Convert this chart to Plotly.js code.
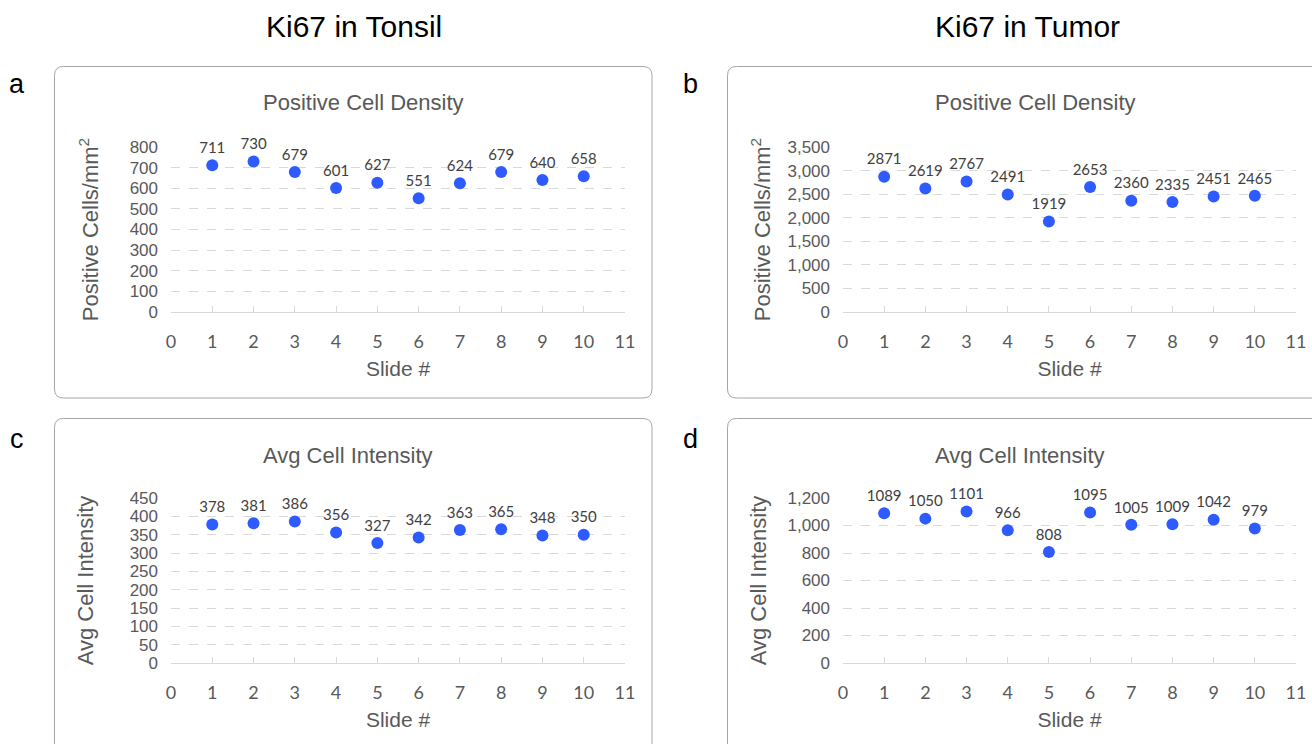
<!DOCTYPE html>
<html>
<head>
<meta charset="utf-8">
<script src="https://cdn.plot.ly/plotly-3.0.1.min.js"></script>
<style>
html,body{margin:0;padding:0;background:#fff;}
#chart{width:1312px;height:744px;}
</style>
</head>
<body>
<div id="chart"></div>
<script>
// ---- data ----
const slides = [1,2,3,4,5,6,7,8,9,10];
const tonsilDensity = [711,730,679,601,627,551,624,679,640,658];
const tumorDensity = [2871,2619,2767,2491,1919,2653,2360,2335,2451,2465];
const tonsilIntensity = [378,381,386,356,327,342,363,365,348,350];
const tumorIntensity = [1089,1050,1101,966,808,1095,1005,1009,1042,979];
const columnTitles = ["Ki67 in Tonsil","Ki67 in Tumor"];
const panelLetters = ["a","b","c","d"];
const chartTitles = ["Positive Cell Density","Positive Cell Density","Avg Cell Intensity","Avg Cell Intensity"];
const yTitles = ["Positive Cells/mm<sup>2</sup>","Positive Cells/mm<sup>2</sup>","Avg Cell Intensity","Avg Cell Intensity"];
const xTitle = "Slide #";

// ---- layout helpers (pixels -> paper) ----
const W = 1312, H = 744;
const px = v => v / W;
const py = v => 1 - v / H;

const SANS = "'Liberation Sans', Arial, sans-serif";
const LABEL = "Lato, 'Open Sans', sans-serif";
const GREY = "#595959";
const BLUE = "#2e5bff";

const panels = [
  {data: tonsilDensity, x0:171, x1:625, yTop:147, yBot:312, ymax:800, dtick:100, fmt:"d", ystand:24},
  {data: tumorDensity, x0:843, x1:1296, yTop:147, yBot:312, ymax:3500, dtick:500, fmt:",d", ystand:10},
  {data: tonsilIntensity, x0:171, x1:625, yTop:498, yBot:663, ymax:450, dtick:50, fmt:"d", ystand:29},
  {data: tumorIntensity, x0:843, x1:1296, yTop:498, yBot:663, ymax:1200, dtick:200, fmt:",d", ystand:14}
];

const traces = [];
const layout = {
  width: W, height: H,
  margin: {l:0, r:0, t:0, b:0},
  paper_bgcolor: "#fff", plot_bgcolor: "rgba(0,0,0,0)",
  showlegend: false,
  font: {family: SANS, color: GREY},
  annotations: [], shapes: []
};

panels.forEach((p, i) => {
  const n = i === 0 ? "" : String(i + 1);
  traces.push({
    type: "scatter", mode: "markers+text",
    x: slides, y: p.data,
    text: p.data.map(String),
    textposition: "top center",
    textfont: {family: LABEL, size: 15, color: "#404040"},
    marker: {size: 12, color: BLUE},
    cliponaxis: false,
    xaxis: "x" + n, yaxis: "y" + n,
    hoverinfo: "x+y"
  });
  layout["xaxis" + n] = {
    domain: [px(p.x0), px(p.x1)],
    anchor: "y" + n,
    range: [0, 11], dtick: 1, tick0: 0,
    showgrid: false, zeroline: false,
    showline: true, linecolor: "#d9d9d9", linewidth: 1,
    ticks: "inside", ticklen: 6, tickcolor: "#d9d9d9",
    ticklabelstandoff: 13,
    tickfont: {family: LABEL, size: 18, color: GREY},
    title: {text: xTitle, font: {family: SANS, size: 21, color: GREY}, standoff: 10}
  };
  layout["yaxis" + n] = {
    domain: [py(p.yBot), py(p.yTop)],
    anchor: "x" + n,
    range: [0, p.ymax], dtick: p.dtick, tick0: 0,
    tickformat: p.fmt,
    showgrid: true, gridcolor: "#d9d9d9", griddash: "dash", gridwidth: 1,
    zeroline: false, showline: false, ticks: "",
    ticklabelstandoff: 12,
    tickfont: {family: SANS, size: 17, color: GREY},
    title: {text: yTitles[i], font: {family: SANS, size: 22, color: GREY}, standoff: p.ystand}
  };
});

// rounded panel boxes
function roundedBox(l, t, r, b, rad) {
  const X = px, Y = py;
  return "M " + X(l + rad) + "," + Y(t) +
    " L " + X(r - rad) + "," + Y(t) +
    " Q " + X(r) + "," + Y(t) + " " + X(r) + "," + Y(t + rad) +
    " L " + X(r) + "," + Y(b - rad) +
    " Q " + X(r) + "," + Y(b) + " " + X(r - rad) + "," + Y(b) +
    " L " + X(l + rad) + "," + Y(b) +
    " Q " + X(l) + "," + Y(b) + " " + X(l) + "," + Y(b - rad) +
    " L " + X(l) + "," + Y(t + rad) +
    " Q " + X(l) + "," + Y(t) + " " + X(l + rad) + "," + Y(t) + " Z";
}
const boxes = [[54.5,66.5,652,398],[727.5,66.5,1340,398],[54.5,418.5,652,770],[727.5,418.5,1340,770]];
boxes.forEach(b => {
  layout.shapes.push({type: "path", xref: "paper", yref: "paper", path: roundedBox(b[0], b[1], b[2], b[3], 9),
    line: {color: "#a6a6a6", width: 1}, fillcolor: "rgba(0,0,0,0)", layer: "below"});
});

// column headers
[[354, 27], [1027, 27]].forEach((c, i) => {
  layout.annotations.push({xref: "paper", yref: "paper", x: px(c[0]), y: py(c[1]), xanchor: "center", yanchor: "middle",
    text: columnTitles[i], showarrow: false, font: {family: SANS, size: 30, color: "#000"}});
});
// panel letters
[[17, 84], [690, 84], [17, 439], [690, 439]].forEach((c, i) => {
  layout.annotations.push({xref: "paper", yref: "paper", x: px(c[0]), y: py(c[1]), xanchor: "center", yanchor: "middle",
    text: panelLetters[i], showarrow: false, font: {family: SANS, size: 27, color: "#000"}});
});
// chart titles
[[363, 103], [1035, 103], [348, 455], [1020, 455]].forEach((c, i) => {
  layout.annotations.push({xref: "paper", yref: "paper", x: px(c[0]), y: py(c[1]), xanchor: "center", yanchor: "middle",
    text: chartTitles[i], showarrow: false, font: {family: SANS, size: 22, color: GREY}});
});

Plotly.newPlot("chart", traces, layout, {staticPlot: true, displayModeBar: false});
</script>
</body>
</html>
